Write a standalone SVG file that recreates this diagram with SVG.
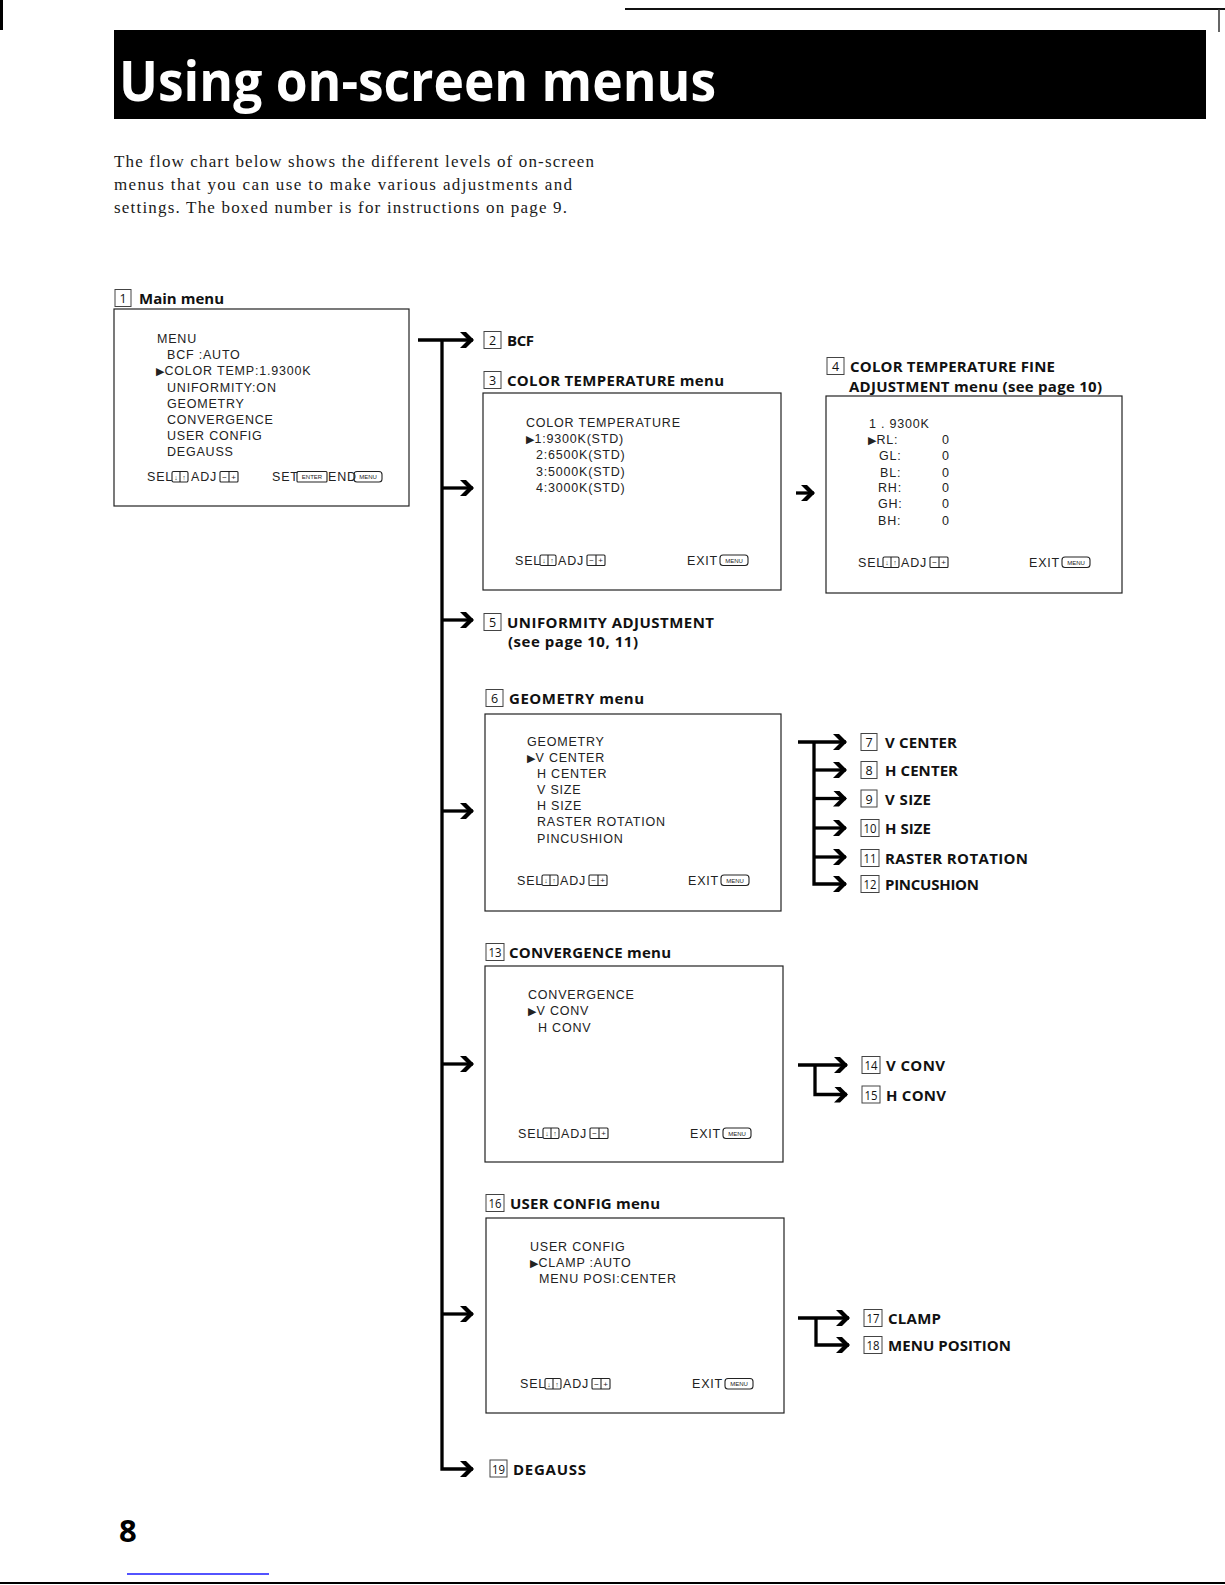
<svg xmlns="http://www.w3.org/2000/svg" xmlns:xlink="http://www.w3.org/1999/xlink" width="1225" height="1585" viewBox="0 0 1225 1585">
<style>
.lbl{font-family:"Open Sans","Liberation Sans",sans-serif;font-weight:700;font-size:15px;fill:#111}
.num{font-family:"Open Sans","Liberation Sans",sans-serif;font-size:12.5px;fill:#111;text-anchor:middle}
.nb{fill:none;stroke:#444;stroke-width:1}
.scr{fill:#fff;stroke:#222;stroke-width:1.2}
.mt{font-family:"Liberation Sans",Arial,sans-serif;font-size:12.5px;letter-spacing:0.8px;fill:#222}
.tri{font-family:"DejaVu Sans",sans-serif;font-size:11px;letter-spacing:0}
.ico{fill:none;stroke:#222;stroke-width:1.1}
.it{font-family:"Liberation Sans",Arial,sans-serif;font-size:6px;fill:#222;text-anchor:middle;letter-spacing:0}
.con{fill:none;stroke:#000;stroke-width:3.3;marker-end:url(#ah)}
.para{font-family:"Liberation Serif","Times New Roman",serif;font-size:17px;fill:#1a1a1a}
</style>
<defs>
<marker id="ah" viewBox="0 0 14 16" refX="13" refY="8" markerWidth="14" markerHeight="16" markerUnits="userSpaceOnUse" orient="auto">
<path d="M0,0 L6,0 L14,8 L6,16 L0,16 L8,8 Z" fill="#000"/>
</marker>
<g id="icoSel"><rect class="ico" x="0" y="-9.5" width="16" height="10.5" rx="1.5"/><line class="ico" x1="8" y1="-9.5" x2="8" y2="1"/><text class="it" x="4" y="-1.5" style="font-size:7px">↓</text><text class="it" x="12" y="-1.5" style="font-size:7px">↑</text></g>
<g id="icoAdj"><rect class="ico" x="0" y="-9.5" width="18" height="10.5" rx="1"/><line class="ico" x1="9" y1="-9.5" x2="9" y2="1"/><text class="it" x="4.5" y="-1.5" style="font-size:8px">−</text><text class="it" x="13.5" y="-1.5" style="font-size:8px">+</text></g>
<g id="icoMenu"><rect class="ico" x="0" y="-9.5" width="28" height="10.5" rx="3"/><text class="it" x="14" y="-2">MENU</text></g>
<g id="icoEnter"><rect class="ico" x="0" y="-9.5" width="30" height="10.5" rx="1"/><text class="it" x="15" y="-2">ENTER</text></g>
</defs>
<rect x="0" y="0" width="1225" height="1585" fill="#fff"/>

<g id="page-frame">
<rect x="0" y="0" width="3" height="30" fill="#000"/>
<line x1="625" y1="9" x2="1225" y2="9" stroke="#111" stroke-width="2"/>
<line x1="1219" y1="9" x2="1219" y2="32" stroke="#333" stroke-width="1.5"/>
<line x1="0" y1="1583" x2="1225" y2="1583" stroke="#000" stroke-width="2"/>
<line x1="127" y1="1574" x2="269" y2="1574" stroke="#1a1aff" stroke-width="1.5"/>
</g>

<g id="title">
<rect x="114" y="30" width="1092" height="89" fill="#000"/>
<text x="119" y="101" font-family="Open Sans, Liberation Sans, sans-serif" font-weight="700" font-size="56" fill="#fff" textLength="597" lengthAdjust="spacingAndGlyphs">Using on-screen menus</text>
</g>

<g id="intro">
<text class="para" x="114" y="167" textLength="480">The flow chart below shows the different levels of on-screen</text>
<text class="para" x="114" y="190" textLength="458">menus that you can use to make various adjustments and</text>
<text class="para" x="114" y="213" textLength="453">settings. The boxed number is for instructions on page 9.</text>
</g>

<g id="n1-main-menu">
<rect class="nb" x="115" y="289.5" width="16" height="17"/><text class="num" x="123" y="303">1</text>
<text class="lbl" x="139" y="304" textLength="85">Main menu</text>
<rect class="scr" x="114" y="309" width="295" height="197"/>
<text class="mt" x="157" y="343">MENU</text>
<text class="mt" x="167" y="359">BCF :AUTO</text>
<text class="mt" x="156" y="375"><tspan class="tri">▶</tspan>COLOR TEMP:1.9300K</text>
<text class="mt" x="167" y="392">UNIFORMITY:ON</text>
<text class="mt" x="167" y="408">GEOMETRY</text>
<text class="mt" x="167" y="424">CONVERGENCE</text>
<text class="mt" x="167" y="440">USER CONFIG</text>
<text class="mt" x="167" y="456">DEGAUSS</text>
<text class="mt" x="147" y="481">SEL</text><use href="#icoSel" x="172" y="481"/>
<text class="mt" x="191" y="481">ADJ</text><use href="#icoAdj" x="220" y="481"/>
<text class="mt" x="272" y="481">SET</text><use href="#icoEnter" x="297" y="481"/>
<text class="mt" x="328" y="481">END</text><use href="#icoMenu" x="354" y="481"/>
</g>

<g id="n2-bcf">
<rect class="nb" x="484" y="331.5" width="17" height="17"/><text class="num" x="492.5" y="345">2</text>
<text class="lbl" x="507" y="346" textLength="27">BCF</text>
</g>

<g id="n3-color-temperature-menu">
<rect class="nb" x="484" y="371.5" width="17" height="17"/><text class="num" x="492.5" y="385">3</text>
<text class="lbl" x="507" y="386" textLength="217">COLOR TEMPERATURE menu</text>
<rect class="scr" x="483" y="393" width="298" height="197"/>
<text class="mt" x="526" y="427">COLOR TEMPERATURE</text>
<text class="mt" x="526" y="443"><tspan class="tri">▶</tspan>1:9300K(STD)</text>
<text class="mt" x="536" y="459">2:6500K(STD)</text>
<text class="mt" x="536" y="475.5">3:5000K(STD)</text>
<text class="mt" x="536" y="491.5">4:3000K(STD)</text>
<text class="mt" x="515" y="564.5">SEL</text><use href="#icoSel" x="540" y="564.5"/>
<text class="mt" x="558" y="564.5">ADJ</text><use href="#icoAdj" x="587" y="564.5"/>
<text class="mt" x="687" y="564.5">EXIT</text><use href="#icoMenu" x="720" y="564.5"/>
</g>

<g id="n4-color-temperature-fine">
<rect class="nb" x="827" y="357.5" width="17" height="17"/><text class="num" x="835.5" y="371">4</text>
<text class="lbl" x="850" y="372" textLength="205">COLOR TEMPERATURE FINE</text>
<text class="lbl" x="849" y="392" textLength="253">ADJUSTMENT menu (see page 10)</text>
<rect class="scr" x="826" y="396" width="296" height="197"/>
<text class="mt" x="869" y="428">1 . 9300K</text>
<text class="mt" x="868" y="444"><tspan class="tri">▶</tspan>RL:</text>
<text class="mt" x="879" y="460">GL:</text>
<text class="mt" x="880" y="476.5">BL:</text>
<text class="mt" x="878" y="491.5">RH:</text>
<text class="mt" x="878" y="507.5">GH:</text>
<text class="mt" x="878" y="525">BH:</text>
<text class="mt" x="942" y="444">0</text>
<text class="mt" x="942" y="460">0</text>
<text class="mt" x="942" y="476.5">0</text>
<text class="mt" x="942" y="491.5">0</text>
<text class="mt" x="942" y="507.5">0</text>
<text class="mt" x="942" y="525">0</text>
<text class="mt" x="858" y="566.5">SEL</text><use href="#icoSel" x="883" y="566.5"/>
<text class="mt" x="901" y="566.5">ADJ</text><use href="#icoAdj" x="930" y="566.5"/>
<text class="mt" x="1029" y="566.5">EXIT</text><use href="#icoMenu" x="1062" y="566.5"/>
</g>

<g id="n5-uniformity">
<rect class="nb" x="484" y="613.5" width="17" height="17"/><text class="num" x="492.5" y="627">5</text>
<text class="lbl" x="507" y="628" textLength="207">UNIFORMITY ADJUSTMENT</text>
<text class="lbl" x="508" y="647" textLength="130">(see page 10, 11)</text>
</g>

<g id="n6-geometry-menu">
<rect class="nb" x="486" y="689.5" width="17" height="17"/><text class="num" x="494.5" y="703">6</text>
<text class="lbl" x="509" y="704" textLength="135">GEOMETRY menu</text>
<rect class="scr" x="485" y="714" width="296" height="197"/>
<text class="mt" x="527" y="745.5">GEOMETRY</text>
<text class="mt" x="527" y="761.5"><tspan class="tri">▶</tspan>V CENTER</text>
<text class="mt" x="537" y="777.5">H CENTER</text>
<text class="mt" x="537" y="794">V SIZE</text>
<text class="mt" x="537" y="810">H SIZE</text>
<text class="mt" x="537" y="826">RASTER ROTATION</text>
<text class="mt" x="537" y="842.5">PINCUSHION</text>
<text class="mt" x="517" y="884.5">SEL</text><use href="#icoSel" x="542" y="884.5"/>
<text class="mt" x="560" y="884.5">ADJ</text><use href="#icoAdj" x="589" y="884.5"/>
<text class="mt" x="688" y="884.5">EXIT</text><use href="#icoMenu" x="721" y="884.5"/>
</g>

<g id="n7-v-center"><rect class="nb" x="861" y="733.5" width="16" height="17"/><text class="num" x="869" y="747">7</text><text class="lbl" x="885" y="748" textLength="72">V CENTER</text></g>
<g id="n8-h-center"><rect class="nb" x="861" y="761.5" width="16" height="17"/><text class="num" x="869" y="775">8</text><text class="lbl" x="885" y="776" textLength="73">H CENTER</text></g>
<g id="n9-v-size"><rect class="nb" x="861" y="790" width="16" height="17"/><text class="num" x="869" y="803.5">9</text><text class="lbl" x="885" y="804.5" textLength="46">V SIZE</text></g>
<g id="n10-h-size"><rect class="nb" x="861" y="819.5" width="18" height="17"/><text class="num" x="870" y="833" textLength="13" lengthAdjust="spacingAndGlyphs">10</text><text class="lbl" x="885" y="834" textLength="46">H SIZE</text></g>
<g id="n11-raster-rotation"><rect class="nb" x="861" y="849.5" width="18" height="17"/><text class="num" x="870" y="863" textLength="13" lengthAdjust="spacingAndGlyphs">11</text><text class="lbl" x="885" y="864" textLength="143">RASTER ROTATION</text></g>
<g id="n12-pincushion"><rect class="nb" x="861" y="875.5" width="18" height="17"/><text class="num" x="870" y="889" textLength="13" lengthAdjust="spacingAndGlyphs">12</text><text class="lbl" x="885" y="890" textLength="94">PINCUSHION</text></g>

<g id="n13-convergence-menu">
<rect class="nb" x="486" y="943.5" width="18" height="17"/><text class="num" x="495" y="957" textLength="13" lengthAdjust="spacingAndGlyphs">13</text>
<text class="lbl" x="509" y="958" textLength="162">CONVERGENCE menu</text>
<rect class="scr" x="485" y="966" width="298" height="196"/>
<text class="mt" x="528" y="999">CONVERGENCE</text>
<text class="mt" x="528" y="1015"><tspan class="tri">▶</tspan>V CONV</text>
<text class="mt" x="538" y="1031.5">H CONV</text>
<text class="mt" x="518" y="1137.5">SEL</text><use href="#icoSel" x="543" y="1137.5"/>
<text class="mt" x="561" y="1137.5">ADJ</text><use href="#icoAdj" x="590" y="1137.5"/>
<text class="mt" x="690" y="1137.5">EXIT</text><use href="#icoMenu" x="723" y="1137.5"/>
</g>

<g id="n14-v-conv"><rect class="nb" x="862" y="1056.5" width="18" height="17"/><text class="num" x="871" y="1070" textLength="13" lengthAdjust="spacingAndGlyphs">14</text><text class="lbl" x="886" y="1071" textLength="59">V CONV</text></g>
<g id="n15-h-conv"><rect class="nb" x="862" y="1086" width="18" height="17"/><text class="num" x="871" y="1099.5" textLength="13" lengthAdjust="spacingAndGlyphs">15</text><text class="lbl" x="886" y="1100.5" textLength="60">H CONV</text></g>

<g id="n16-user-config-menu">
<rect class="nb" x="486" y="1194.5" width="18" height="17"/><text class="num" x="495" y="1208" textLength="13" lengthAdjust="spacingAndGlyphs">16</text>
<text class="lbl" x="510" y="1209" textLength="150">USER CONFIG menu</text>
<rect class="scr" x="486" y="1218" width="298" height="195"/>
<text class="mt" x="530" y="1250.5">USER CONFIG</text>
<text class="mt" x="530" y="1266.5"><tspan class="tri">▶</tspan>CLAMP :AUTO</text>
<text class="mt" x="539" y="1283">MENU POSI:CENTER</text>
<text class="mt" x="520" y="1388">SEL</text><use href="#icoSel" x="545" y="1388"/>
<text class="mt" x="563" y="1388">ADJ</text><use href="#icoAdj" x="592" y="1388"/>
<text class="mt" x="692" y="1388">EXIT</text><use href="#icoMenu" x="725" y="1388"/>
</g>

<g id="n17-clamp"><rect class="nb" x="864" y="1309.5" width="18" height="17"/><text class="num" x="873" y="1323" textLength="13" lengthAdjust="spacingAndGlyphs">17</text><text class="lbl" x="888" y="1324" textLength="53">CLAMP</text></g>
<g id="n18-menu-position"><rect class="nb" x="864" y="1336.5" width="18" height="17"/><text class="num" x="873" y="1350" textLength="13" lengthAdjust="spacingAndGlyphs">18</text><text class="lbl" x="888" y="1351" textLength="123">MENU POSITION</text></g>

<g id="n19-degauss"><rect class="nb" x="490" y="1460" width="17" height="17"/><text class="num" x="498.5" y="1473.5" textLength="13" lengthAdjust="spacingAndGlyphs">19</text><text class="lbl" x="513" y="1474.5" textLength="73">DEGAUSS</text></g>

<g id="page-number"><text x="119" y="1542" font-family="Open Sans, Liberation Sans, sans-serif" font-weight="700" font-size="31" fill="#000">8</text></g>

<g id="connectors">
<path class="con" d="M418,340 H473"/>
<path class="con" d="M442,340 V1469 H473"/>
<path class="con" d="M442,488 H473"/>
<path class="con" d="M442,620 H473"/>
<path class="con" d="M442,811 H473"/>
<path class="con" d="M442,1064 H473"/>
<path class="con" d="M442,1314 H473"/>
<path class="con" d="M796,493 H814"/>
<path class="con" d="M798,742 H846"/>
<path class="con" d="M814,742 V884 H846"/>
<path class="con" d="M814,770 H846"/>
<path class="con" d="M814,798.5 H846"/>
<path class="con" d="M814,828 H846"/>
<path class="con" d="M814,857 H846"/>
<path class="con" d="M798,1065 H847"/>
<path class="con" d="M815,1065 V1094.5 H847"/>
<path class="con" d="M798,1318 H849"/>
<path class="con" d="M816,1318 V1345 H849"/>
</g>
</svg>
